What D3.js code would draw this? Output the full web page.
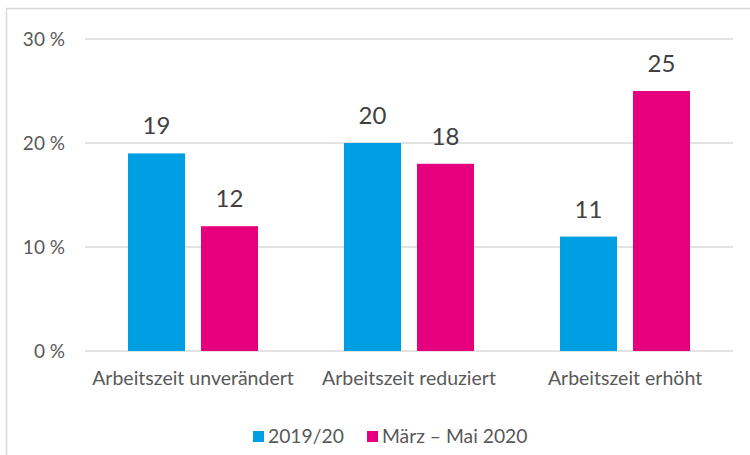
<!DOCTYPE html>
<html>
<head>
<meta charset="utf-8">
<script src="https://cdn.jsdelivr.net/npm/d3@7"></script>
<style>
  body { margin: 0; background: #fff; }
  svg { display: block; font-family: Lato, "Open Sans", sans-serif; }
</style>
</head>
<body>
<script>
var categories = ["Arbeitszeit unverändert", "Arbeitszeit reduziert", "Arbeitszeit erhöht"];
var seriesNames = ["2019/20", "März – Mai 2020"];
var values2019 = [19, 20, 11];
var values2020 = [12, 18, 25];
var yTicks = [0, 10, 20, 30];
var colors = ["#009fe3", "#e6007e"];

var width = 750, height = 455;
var plot = {left: 85, right: 733, top: 39, bottom: 351};

var svg = d3.select("body").append("svg")
  .attr("width", width)
  .attr("height", height);

// chart frame (cut off at right and bottom like the original)
svg.append("rect")
  .attr("x", 6.5).attr("y", 8.5)
  .attr("width", 760).attr("height", 470)
  .attr("fill", "none")
  .attr("stroke", "#d9d9d9")
  .attr("stroke-width", 1.5);

var y = d3.scaleLinear().domain([0, 30]).range([plot.bottom, plot.top]);
var x0 = d3.scaleBand().domain(categories).range([plot.left, plot.right])
  .paddingInner(0.398).paddingOuter(0.199);
var x1 = d3.scaleBand().domain(seriesNames).range([0, x0.bandwidth()])
  .paddingInner(0.219).paddingOuter(0);

// gridlines
svg.append("g").selectAll("line")
  .data(yTicks)
  .enter().append("line")
  .attr("x1", plot.left).attr("x2", plot.right)
  .attr("y1", function(d) { return y(d); })
  .attr("y2", function(d) { return y(d); })
  .attr("stroke", "#d9d9d9")
  .attr("stroke-width", 1.5);

// y tick labels
svg.append("g").selectAll("text")
  .data(yTicks)
  .enter().append("text")
  .attr("x", 65)
  .attr("y", function(d) { return y(d); })
  .attr("dy", "0.35em")
  .attr("text-anchor", "end")
  .attr("fill", "#595959")
  .style("font-size", "19px")
  .text(function(d) { return d + " %"; });

var rows = categories.map(function(c, i) {
  return [{cat: c, s: seriesNames[0], v: values2019[i], k: 0},
          {cat: c, s: seriesNames[1], v: values2020[i], k: 1}];
});

var groups = svg.append("g").selectAll("g")
  .data(rows)
  .enter().append("g")
  .attr("transform", function(d) { return "translate(" + x0(d[0].cat) + ",0)"; });

groups.selectAll("rect")
  .data(function(d) { return d; })
  .enter().append("rect")
  .attr("x", function(d) { return x1(d.s); })
  .attr("y", function(d) { return y(d.v); })
  .attr("width", x1.bandwidth())
  .attr("height", function(d) { return y(0) - y(d.v); })
  .attr("fill", function(d) { return colors[d.k]; });

groups.selectAll("text")
  .data(function(d) { return d; })
  .enter().append("text")
  .attr("x", function(d) { return x1(d.s) + x1.bandwidth() / 2; })
  .attr("y", function(d) { return y(d.v) - 19; })
  .attr("text-anchor", "middle")
  .attr("fill", "#404040")
  .style("font-size", "24px")
  .text(function(d) { return d.v; });

// category labels
svg.append("g").selectAll("text")
  .data(categories)
  .enter().append("text")
  .attr("x", function(d) { return x0(d) + x0.bandwidth() / 2; })
  .attr("y", 385)
  .attr("text-anchor", "middle")
  .attr("fill", "#595959")
  .style("font-size", "19.5px")
  .text(function(d) { return d; });

// legend
var legendX = [253, 367];
var legend = svg.append("g").selectAll("g")
  .data(seriesNames)
  .enter().append("g")
  .attr("transform", function(d, i) { return "translate(" + legendX[i] + ",431)"; });

legend.append("rect")
  .attr("width", 11).attr("height", 11)
  .attr("fill", function(d, i) { return colors[i]; });

legend.append("text")
  .attr("x", 15).attr("y", 12)
  .attr("fill", "#595959")
  .style("font-size", "19.3px")
  .text(function(d) { return d; });
</script>
</body>
</html>
